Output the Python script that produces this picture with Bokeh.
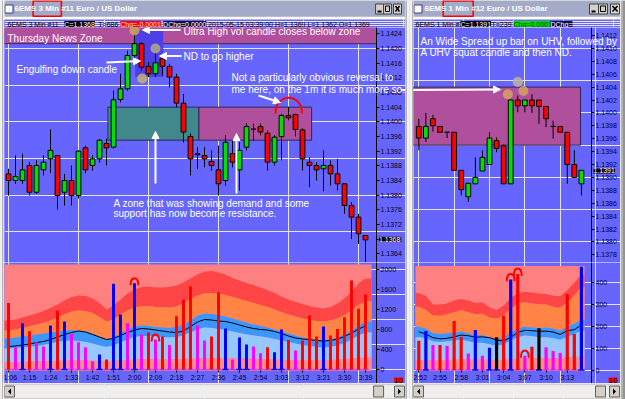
from bokeh.plotting import figure
from bokeh.layouts import row, column
from bokeh.models import (Range1d, FixedTicker, PrintfTickFormatter, Label, Arrow, NormalHead,
                          LinearAxis)
from bokeh.embed import file_html
from bokeh.resources import INLINE

FONT = "Liberation Sans"
BG = "#6666FF"
GRAY = "#D4D0C8"
TITLE_BG = "#A3ABC8"
UP = "#00E000"
DOWN = "#FF0000"
VOLC = {"r": "#FF0000", "b": "#0000FF", "m": "#FF00FF", "k": "#000000"}
BASEC = {"r": "#C040E0", "b": "#0000FF", "m": "#C040E0", "k": "#0000FF"}

# ---------------- LEFT CHART: 6EMS 3 Min ----------------
left_times = ["1:06", "1:15", "1:24", "1:33", "1:42", "1:51", "2:00", "2:09", "2:18",
              "2:27", "2:36", "2:45", "2:54", "3:03", "3:12", "3:21", "3:30", "3:39"]
left_open = [1.13858, 1.13840, 1.13840, 1.13881, 1.13808, 1.13869, 1.13899, 1.13908, 1.13808, 1.13840,
             1.13799, 1.13929, 1.13881, 1.13899, 1.13941, 1.13931, 1.14061, 1.14090, 1.14181, 1.14213,
             1.14151, 1.14131, 1.14172, 1.14151, 1.14122, 1.14051, 1.13960, 1.13913, 1.13908, 1.13892,
             1.13869, 1.13840, 1.13913, 1.13869, 1.13931, 1.13980, 1.13987, 1.13969, 1.13890, 1.13960,
             1.14017, 1.14020, 1.13978, 1.13890, 1.13881, 1.13872, 1.13881, 1.13858, 1.13831, 1.13772,
             1.13740, 1.13690]
left_high = [1.13872, 1.13908, 1.13913, 1.13890, 1.13895, 1.13908, 1.13979, 1.13910, 1.13858, 1.13881,
             1.13922, 1.13935, 1.13910, 1.13953, 1.13954, 1.14085, 1.14131, 1.14194, 1.14241, 1.14217,
             1.14163, 1.14190, 1.14181, 1.14158, 1.14131, 1.14076, 1.13968, 1.13931, 1.13931, 1.13922,
             1.13935, 1.13963, 1.13949, 1.13944, 1.13996, 1.13995, 1.13995, 1.13976, 1.13963, 1.14022,
             1.14040, 1.14022, 1.13982, 1.13904, 1.13890, 1.13922, 1.13895, 1.13899, 1.13831, 1.13781,
             1.13749, 1.13690]
left_low = [1.13799, 1.13831, 1.13831, 1.13799, 1.13804, 1.13854, 1.13860, 1.13761, 1.13772, 1.13772,
            1.13791, 1.13860, 1.13867, 1.13889, 1.13881, 1.13927, 1.14053, 1.14085, 1.14167, 1.14140,
            1.14122, 1.14122, 1.14126, 1.14094, 1.14040, 1.13944, 1.13854, 1.13872, 1.13876, 1.13867,
            1.13799, 1.13826, 1.13876, 1.13813, 1.13922, 1.13949, 1.13963, 1.13867, 1.13881, 1.13895,
            1.14004, 1.13960, 1.13867, 1.13822, 1.13840, 1.13811, 1.13826, 1.13813, 1.13749, 1.13681,
            1.13667, 1.13617]
left_close = [1.13840, 1.13851, 1.13869, 1.13808, 1.13881, 1.13890, 1.13922, 1.13799, 1.13840, 1.13799,
              1.13920, 1.13869, 1.13899, 1.13950, 1.13929, 1.14060, 1.14090, 1.14181, 1.14213, 1.14149,
              1.14131, 1.14161, 1.14151, 1.14122, 1.14051, 1.13972, 1.13899, 1.13910, 1.13899, 1.13881,
              1.13831, 1.13944, 1.13890, 1.13922, 1.13987, 1.13980, 1.13972, 1.13890, 1.13958, 1.14017,
              1.14011, 1.13979, 1.13899, 1.13881, 1.13869, 1.13881, 1.13858, 1.13831, 1.13772, 1.13740,
              1.13695, 1.13678]
left_volume = [1330, 435, 925, 765, 545, 460, 880, 1180, 960, 715, 545, 445, 165, 300, 200, 1715, 1100,
               925, 1725, 700, 745, 600, 660, 490, 1065, 1395, 1665, 880, 580, 660, 1545, 820, 200, 640,
               500, 460, 325, 445, 345, 800, 590, 380, 580, 1080, 660, 860, 680, 810, 1045, 1780, 1215, 1500]
left_vol_type = ["r", "m", "b", "r", "m", "m", "b", "r", "b", "m", "m", "m", "m", "b", "r", "b", "b",
                 "m", "b", "m", "r", "m", "r", "m", "r", "r", "r", "m", "m", "r", "r", "b", "m", "b",
                 "b", "m", "m", "r", "b", "b", "r", "m", "r", "r", "r", "b", "r", "r", "r", "r", "r", "r"]
left_band_pink = [150, 150, 155, 160, 160, 165, 170, 175, 180, 185, 185, 180, 175, 170, 165, 170, 180,
                  190, 200, 205, 205, 200, 200, 200, 205, 210, 215, 220, 225, 230, 230, 230, 230, 225,
                  220, 215, 210, 205, 200, 195, 190, 185, 180, 180, 180, 185, 190, 200, 210, 220, 230, 240]
left_band_lightblue = [420, 430, 440, 450, 470, 490, 520, 550, 570, 580, 570, 550, 520, 480, 450, 480,
                       540, 600, 650, 670, 670, 660, 650, 640, 650, 680, 740, 800, 840, 830, 810, 790,
                       760, 730, 700, 680, 660, 640, 610, 580, 550, 520, 490, 470, 450, 440, 450, 480,
                       530, 600, 680, 740]
left_band_blue = [620, 640, 660, 680, 700, 720, 740, 760, 780, 790, 780, 760, 720, 660, 600, 640, 720,
                  800, 860, 880, 870, 850, 840, 830, 850, 900, 980, 1080, 1120, 1110, 1090, 1060, 1020,
                  980, 940, 900, 870, 840, 800, 760, 720, 680, 640, 610, 590, 580, 600, 640, 700, 780,
                  880, 960]
left_band_orange = [780, 800, 830, 860, 900, 930, 980, 1040, 1100, 1160, 1180, 1170, 1130, 1050, 960,
                    1000, 1100, 1180, 1240, 1270, 1270, 1250, 1240, 1240, 1260, 1320, 1400, 1480, 1520,
                    1530, 1520, 1490, 1450, 1410, 1370, 1330, 1290, 1250, 1200, 1150, 1100, 1060, 1020,
                    990, 970, 960, 980, 1020, 1090, 1180, 1290, 1360]
left_band_red = [980, 1000, 1040, 1080, 1120, 1170, 1230, 1300, 1380, 1450, 1480, 1470, 1420, 1330, 1200,
                 1280, 1400, 1520, 1600, 1650, 1660, 1640, 1640, 1650, 1680, 1740, 1820, 1900, 1960, 1970,
                 1940, 1900, 1830, 1780, 1730, 1690, 1640, 1590, 1530, 1460, 1400, 1350, 1310, 1270, 1240,
                 1220, 1250, 1320, 1420, 1560, 1720, 1820]
left_vol_avg = [460, 470, 490, 510, 540, 560, 600, 650, 700, 740, 770, 750, 700, 650, 600, 620, 680, 740,
                790, 820, 810, 790, 770, 750, 740, 770, 860, 950, 1000, 990, 970, 960, 930, 890, 850, 820,
                800, 790, 760, 720, 670, 630, 610, 600, 580, 570, 580, 610, 660, 730, 810, 870]
left_price_ticks = [1.1364, 1.1368, 1.1372, 1.1376, 1.1380, 1.1384, 1.1388, 1.1392, 1.1396, 1.1400,
                    1.1404, 1.1408, 1.1412, 1.1416, 1.1420, 1.1424]
left_vol_ticks = [0, 400, 800, 1200, 1600, 2000]
left_last = 1.1368
left_hooks = [18, 21]
left_marks_x = [18.0, 21.0, 19.1]
left_marks_y = [1.14249, 1.14200, 1.14118]
news_zone_bottom = 1.14213
zone_top = 1.1404
zone_bottom = 1.1395
left_zone_teal = (14.2, 27.2)
left_zone_magenta = (27.2, 43.3)
left_uhv_box = (18.1, 22.1, 1.14122, 1.1425)

# ---------------- RIGHT CHART: 6EMS 1 Min ----------------
right_times = ["2:52", "2:55", "2:58", "3:01", "3:04", "3:07", "3:10", "3:13"]
right_open = [1.13979, 1.13961, 1.13991, 1.13979, 1.13970, 1.13970, 1.13911, 1.13870, 1.13890, 1.13910,
              1.13920, 1.13957, 1.13949, 1.13890, 1.14020, 1.14011, 1.14020, 1.14020, 1.14010, 1.13979,
              1.13979, 1.13970, 1.13920, 1.13890]
right_high = [1.13991, 1.14000, 1.13997, 1.13979, 1.13970, 1.13970, 1.13911, 1.13891, 1.13931, 1.13942,
              1.13970, 1.13962, 1.13951, 1.14020, 1.14027, 1.14020, 1.14029, 1.14020, 1.14010, 1.13988,
              1.13979, 1.13970, 1.13942, 1.13911]
right_low = [1.13942, 1.13955, 1.13971, 1.13970, 1.13961, 1.13911, 1.13872, 1.13862, 1.13890, 1.13910,
             1.13920, 1.13939, 1.13890, 1.13890, 1.14001, 1.14001, 1.14000, 1.13983, 1.13978, 1.13960,
             1.13970, 1.13890, 1.13900, 1.13872]
right_close = [1.13961, 1.13979, 1.13980, 1.13970, 1.13970, 1.13911, 1.13881, 1.13891, 1.13900, 1.13931,
               1.13961, 1.13945, 1.13890, 1.14020, 1.14011, 1.14020, 1.14011, 1.14010, 1.13991, 1.13979,
               1.13970, 1.13920, 1.13900, 1.13911]
right_volume = [134, 179, 115, 115, 110, 224, 151, 76, 183, 65, 102, 150, 249, 415, 440, 65, 107, 191,
                104, 87, 78, 348, 165, 473]
right_vol_type = ["r", "b", "m", "r", "m", "r", "r", "m", "b", "m", "b", "k", "r", "b", "r", "m", "r",
                  "k", "m", "m", "m", "r", "r", "b"]
right_band_pink = [45, 45, 45, 45, 45, 48, 48, 48, 48, 48, 47, 46, 46, 50, 52, 55, 55, 55, 55, 55, 55, 58, 60, 62]
right_band_lightblue = [150, 145, 130, 128, 130, 135, 138, 132, 125, 125, 118, 110, 118, 135, 150, 158,
                        155, 150, 150, 145, 138, 150, 165, 180]
right_band_blue = [198, 190, 170, 165, 168, 172, 176, 168, 158, 160, 150, 140, 150, 172, 190, 198, 195,
                   192, 195, 190, 180, 198, 212, 230]
right_band_orange = [290, 275, 250, 248, 255, 265, 275, 265, 255, 258, 240, 235, 250, 280, 305, 310, 305,
                     300, 300, 290, 285, 310, 340, 380]
right_band_red = [353, 340, 300, 300, 305, 318, 325, 318, 307, 310, 287, 275, 295, 330, 352, 358, 355,
                  350, 348, 340, 338, 365, 400, 435]
right_vol_avg = [175, 165, 148, 143, 145, 152, 160, 157, 150, 152, 148, 138, 133, 150, 172, 182, 180, 178,
                 178, 174, 163, 180, 185, 206]
right_price_ticks = [1.1378, 1.1380, 1.1382, 1.1384, 1.1386, 1.1388, 1.1390, 1.1392, 1.1394, 1.1396,
                     1.1398, 1.1400, 1.1402, 1.1404, 1.1406, 1.1408, 1.1410, 1.1412]
right_vol_ticks = [0, 100, 200, 300, 400]
right_last = 1.1391
right_hooks = [13, 14, 15]
right_marks_x = [14.0, 12.6, 14.8]
right_marks_y = [1.14048, 1.14029, 1.14034]
right_zone_x = (-1.0, 22.87)


# ---------------- pixel <-> data helpers (layout only) ----------------
def LX(px): return (px - 8.0) / 7.0
def LY(py): return 1.1424 - (py - 33.3) * 0.0004 / 14.67
def LV(py): return (369.0 - py) * 20.0
def RX(px): return (px - 418.3) / 7.07
def RY(py): return 1.1412 - (py - 35.0) * 0.0002 / 12.9
def RV(py): return (369.5 - py) / 0.2183


def plain(w, h, bg):
    p = figure(width=w, height=h, x_range=Range1d(0, w), y_range=Range1d(0, h),
               toolbar_location=None, output_backend="svg",
               x_axis_location=None, y_axis_location=None, min_border=0)
    p.background_fill_color = bg
    p.border_fill_color = bg
    p.outline_line_color = None
    return p


def chart(w, h, xr, yr, left=0):
    p = figure(width=w, height=h, x_range=xr, y_range=yr, toolbar_location=None,
               output_backend="svg", x_axis_location=None, y_axis_location=None,
               min_border=0, min_border_left=left)
    p.background_fill_color = BG
    p.border_fill_color = BG
    p.outline_line_color = None
    return p


def style_axis(ax, ticks, fmt=None):
    ax.ticker = FixedTicker(ticks=ticks)
    if fmt:
        ax.formatter = PrintfTickFormatter(format=fmt)
    ax.major_label_text_font = FONT
    ax.major_label_text_font_size = "7px"
    ax.major_label_text_color = "#000028"
    ax.axis_line_color = "black"
    ax.major_tick_line_color = "black"
    ax.major_tick_out = 3
    ax.major_tick_in = 0
    ax.minor_tick_line_color = None
    ax.major_label_standoff = 1


def add_yaxis(p, x_at, ticks, fmt=None):
    ax = LinearAxis(fixed_location=x_at)
    style_axis(ax, ticks, fmt)
    p.add_layout(ax, "right")
    return ax


def add_time_axis(p, y_at, ticks, labels):
    ax = LinearAxis(fixed_location=y_at)
    style_axis(ax, ticks)
    ax.major_label_overrides = {i: t for i, t in zip(ticks, labels)}
    ax.axis_line_color = None
    ax.major_tick_out = 2
    p.add_layout(ax, "below")
    return ax


def txt(p, x, y, s, size="10px", color="white", bg=None, bold=False, align="left"):
    p.add_layout(Label(x=x, y=y, text=s, text_font=FONT, text_font_size=size,
                       text_color=color, text_align=align, text_baseline="middle",
                       background_fill_color=bg,
                       text_font_style="bold" if bold else "normal"))


def arrow(p, x0, y0, x1, y1, head=True, w=2):
    p.add_layout(Arrow(x_start=x0, y_start=y0, x_end=x1, y_end=y1, line_color="white",
                       line_width=w,
                       end=NormalHead(size=7, fill_color="white", line_color="white") if head else None))


def candles(p, o, h, l, c, width):
    x = list(range(len(o)))
    p.segment(x0=x, y0=l, x1=x, y1=h, line_color="black", line_width=1)
    top = [max(a, b) for a, b in zip(o, c)]
    bot = [min(a, b) for a, b in zip(o, c)]
    col = [UP if b > a else (DOWN if b < a else "black") for a, b in zip(o, c)]
    p.vbar(x=x, width=width, top=top, bottom=bot, fill_color=col, line_color="black", line_width=1)


def volume_panel(p, vol, types, bands, xl, xr, top, bottom, bar_w, hooks, hb, hc):
    n = len(vol)
    x = list(range(n))
    xs = [xl] + x + [xr]

    def ext(a):
        return [a[0]] + list(a) + [a[-1]]
    pk, lb, mb, orr, rd, ma = bands
    p.quad(left=[xl], right=[xr], bottom=[bottom], top=[top], fill_color="#FF8080", line_color=None)
    p.varea(x=xs, y1=ext(orr), y2=ext(rd), fill_color="#FF4646")
    p.varea(x=xs, y1=ext(mb), y2=ext(orr), fill_color="#FF8446")
    p.varea(x=xs, y1=ext(lb), y2=ext(mb), fill_color="#3C96FF")
    p.varea(x=xs, y1=ext(pk), y2=ext(lb), fill_color="#96C8FF")
    p.varea(x=xs, y1=[bottom] * (n + 2), y2=ext(pk), fill_color="#FF8C8C")
    p.line(x, ma, line_color="black", line_width=1)
    p.segment(x0=[i - 0.45 for i in x], y0=[0] * n, x1=[i + 0.45 for i in x], y1=[0] * n,
              line_color=[BASEC[t] for t in types], line_width=1.5)
    p.vbar(x=x, width=bar_w, top=vol, bottom=0, fill_color=[VOLC[t] for t in types], line_color=None)
    hv = [vol[i] for i in hooks]
    p.bezier(x0=[i - 0.55 for i in hooks], y0=[v - hb for v in hv],
             x1=[i + 0.55 for i in hooks], y1=[v - hb for v in hv],
             cx0=[i - 0.55 for i in hooks], cy0=[v - hb + hc for v in hv],
             cx1=[i + 0.55 for i in hooks], cy1=[v - hb + hc for v in hv],
             line_color="red", line_width=2)


def title_bar(w, title, red, buttons, bw, text_x):
    p = plain(w, 17, GRAY)
    p.quad(left=[0], right=[w], bottom=[1], top=[17], fill_color=TITLE_BG, line_color=None)
    p.quad(left=[0.5], right=[8.5], bottom=[4.5], top=[12.5], fill_color="white", line_color="#3A3A8A")
    txt(p, text_x, 9, title, size="8px", bold=True)
    bx = buttons
    p.quad(left=bx, right=[b + bw for b in bx], bottom=[3.5] * 3, top=[13.5] * 3,
           fill_color=GRAY, line_color="#404040", line_width=1)
    p.segment(x0=[bx[0] + 2], y0=[6], x1=[bx[0] + 6], y1=[6], line_color="black", line_width=2)
    p.quad(left=[bx[1] + 2], right=[bx[1] + bw - 2], bottom=[6], top=[11.5],
           fill_color=None, line_color="black", line_width=1)
    p.segment(x0=[bx[2] + 2, bx[2] + 2], y0=[6, 11.5], x1=[bx[2] + bw - 2, bx[2] + bw - 2],
              y1=[11.5, 6], line_color="black", line_width=1.5)
    p.quad(left=[red[0]], right=[red[1]], bottom=[1.2], top=[16.5], fill_color=None,
           line_color="#FF0000", line_width=1.6)
    return p


def info_bar(w, segs):
    p = plain(w, 10, BG)
    p.segment(x0=[0], y0=[0], x1=[1], y1=[0], line_color=BG)
    for x, s, fg, bg in segs:
        txt(p, x, 5, s, size="7px", color=fg, bg=bg)
    return p


def scroll_bar(w, left_btn, thumb, right_btn):
    p = plain(w, 16, GRAY)
    p.quad(left=[0], right=[w], bottom=[2], top=[14], fill_color="#EEEEEE", line_color=None)
    for b in (left_btn, thumb, right_btn):
        p.quad(left=[b], right=[b + 10], bottom=[2.5], top=[13.5], fill_color=GRAY,
               line_color="#606060", line_width=1)
    p.patch([left_btn + 6.5, left_btn + 3.5, left_btn + 6.5], [5, 8, 11], fill_color="black", line_color=None)
    p.patch([right_btn + 3.5, right_btn + 6.5, right_btn + 3.5], [5, 8, 11], fill_color="black", line_color=None)
    return p


def edge(w, lines):
    p = plain(w, 399, GRAY)
    xs = [a for a, _ in lines]
    p.segment(x0=xs, y0=[0] * len(xs), x1=xs, y1=[399] * len(xs),
              line_color=[c for _, c in lines], line_width=1)
    return p


# ---------------- LEFT WINDOW ----------------
lt = title_bar(402, "6EMS 3 Min #11 Euro / US Dollar", (28.7, 57.0), [372, 380, 390], 8, 10)
li = info_bar(402, [(3, "6EMS  3 Min   #11", "black", None),
                    (60, "C=1.1368", "white", "black"),
                    (94, "T=686", "black", None),
                    (116, "Chg=-0.0001", "#FFE0E0", "#FF0000"),
                    (159, "DChg=0.0000", "white", "#101040"),
                    (204, "2015-05-15 03:39:00 H=1.1369 L=1.1362 O=1.1369", "black", None)])

lp = chart(402, 235, Range1d(LX(4), LX(405)), Range1d(LY(262), LY(27)), left=1)
lp.quad(left=[-1], right=[LX(376)], bottom=[news_zone_bottom], top=[1.1430], fill_color="#B0509C",
        line_color="#3A2A60", line_width=1)
lp.quad(left=[left_uhv_box[0]], right=[left_uhv_box[1]], bottom=[left_uhv_box[2]], top=[left_uhv_box[3]],
        fill_color="#4E3FE6", line_color=None)
lp.quad(left=[left_zone_teal[0], left_zone_magenta[0]], right=[left_zone_teal[1], left_zone_magenta[1]],
        bottom=[zone_bottom] * 2, top=[zone_top] * 2, fill_color=["#40888C", "#B0509C"],
        line_color="#28285A", line_width=1)
candles(lp, left_open, left_high, left_low, left_close, 0.68)
lp.scatter(x=left_marks_x, y=left_marks_y, size=10, fill_color=["#C9A55A", "#B4AA84", "#C8B070"],
           fill_alpha=0.85, line_color=None)
lp.bezier(x0=[LX(275)], y0=[LY(113)], x1=[LX(301.5)], y1=[LY(113)], cx0=[LX(275)], cy0=[LY(92)],
          cx1=[LX(301.5)], cy1=[LY(92)], line_color="red", line_width=2)
add_yaxis(lp, LX(376), left_price_ticks, "%.4f")
txt(lp, LX(378.5), left_last, "1.1368", size="7px", color="white", bg="black")
arrow(lp, LX(180), LY(29.5), LX(142), LY(29.5))
arrow(lp, LX(181), LY(55.5), LX(159), LY(55.5))
arrow(lp, LX(106), LY(62), LX(140), LY(60.5))
arrow(lp, LX(155), LY(183), LX(155), LY(131))
arrow(lp, LX(236), LY(193), LX(236), LY(133))
arrow(lp, LX(258), LY(95), LX(280), LY(102))
arrow(lp, LX(401), LY(89.5), LX(406), LY(89.5), head=False)
left_notes = [("Thursday News Zone", 7, 37.5),
              ("Ultra High vol candle closes below zone", 183, 31),
              ("ND to go higher", 183, 55.5),
              ("Engulfing down candle", 16, 69),
              ("Not a particularly obvious reversal to", 231, 77),
              ("me here, on the 1m it is much more so.", 231, 88.5),
              ("A zone that was showing demand and some", 113, 202.5),
              ("support has now become resistance.", 113, 213)]
for s, x, y in left_notes:
    txt(lp, LX(x), LY(y), s)

lv = chart(402, 121, lp.x_range, Range1d(LV(383), LV(262)), left=1)
volume_panel(lv, left_volume, left_vol_type,
             (left_band_pink, left_band_lightblue, left_band_blue, left_band_orange, left_band_red, left_vol_avg),
             LX(3.3), LX(371), 2100, LV(370), 0.42, left_hooks, 40, 190)
add_yaxis(lv, LX(376), left_vol_ticks)
left_tick_idx = list(range(0, len(left_open), 3))
add_time_axis(lv, LV(370), left_tick_idx, left_times)
txt(lv, LX(393.5), LV(379.5), "10", size="8px", color="black", bg="#FF0000")

ls = scroll_bar(402, 0, 370, 391)

left_col = column(lt, li, lp, lv, ls)

# ---------------- RIGHT WINDOW ----------------
rt = title_bar(207, "6EMS 1 Min #12 Euro / US Dollar", (29.7, 59.7), [176, 185, 197], 9, 11)
ri = info_bar(207, [(2, "6EMS  1 Min   #12", "black", None),
                    (47, "C=1.1391", "white", "black"),
                    (78, "T=239", "black", None),
                    (100, "Chg=0.0001", "#003300", "#00DD00"),
                    (137, "DChg=", "white", "#101040")])

rp = chart(207, 235, Range1d(RX(413), RX(620)), Range1d(RY(262), RY(27)), left=0)
rp.quad(left=[right_zone_x[0]], right=[right_zone_x[1]], bottom=[zone_bottom], top=[zone_top],
        fill_color="#B0509C", line_color="#28285A", line_width=1)
candles(rp, right_open, right_high, right_low, right_close, 0.68)
rp.scatter(x=right_marks_x, y=right_marks_y, size=10, fill_color=["#BEB49C", "#D8A060", "#D8A060"],
           fill_alpha=0.85, line_color=None)
add_yaxis(rp, RX(591), right_price_ticks, "%.4f")
txt(rp, RX(593), right_last, "1.1391", size="7px", color="white", bg="black")
arrow(rp, RX(412), RY(89.5), RX(500), RY(89))
txt(rp, RX(420), RY(40.7), "An Wide Spread up bar on UHV, followed by")
txt(rp, RX(420), RY(52.3), "A UHV squat candle and then ND.")

rv = chart(207, 121, rp.x_range, Range1d(RV(383), RV(262)), left=0)
volume_panel(rv, right_volume, right_vol_type,
             (right_band_pink, right_band_lightblue, right_band_blue, right_band_orange, right_band_red, right_vol_avg),
             RX(415), RX(584), 476, RV(370), 0.45, right_hooks, 9, 45)
add_yaxis(rv, RX(591), right_vol_ticks)
right_tick_idx = list(range(0, len(right_open) - 2, 3))
add_time_axis(rv, RV(370), right_tick_idx, right_times)
txt(rv, RX(608), RV(379.5), "10", size="8px", color="black", bg="#FF0000")

rs = scroll_bar(207, 0, 182, 196)

right_col = column(rt, ri, rp, rv, rs)

edge_l = edge(3, [(0.5, "#FFFFFF"), (2.5, "#808080")])
gap = edge(8, [(0.5, "#808080"), (2.5, "#FFFFFF"), (5.5, "#FFFFFF"), (7.5, "#808080")])
edge_r = edge(5, [(1.5, "#808080"), (3.5, "#404040")])

layout = row(edge_l, left_col, gap, right_col, edge_r)

open("out.html", "w").write(file_html(layout, INLINE))
